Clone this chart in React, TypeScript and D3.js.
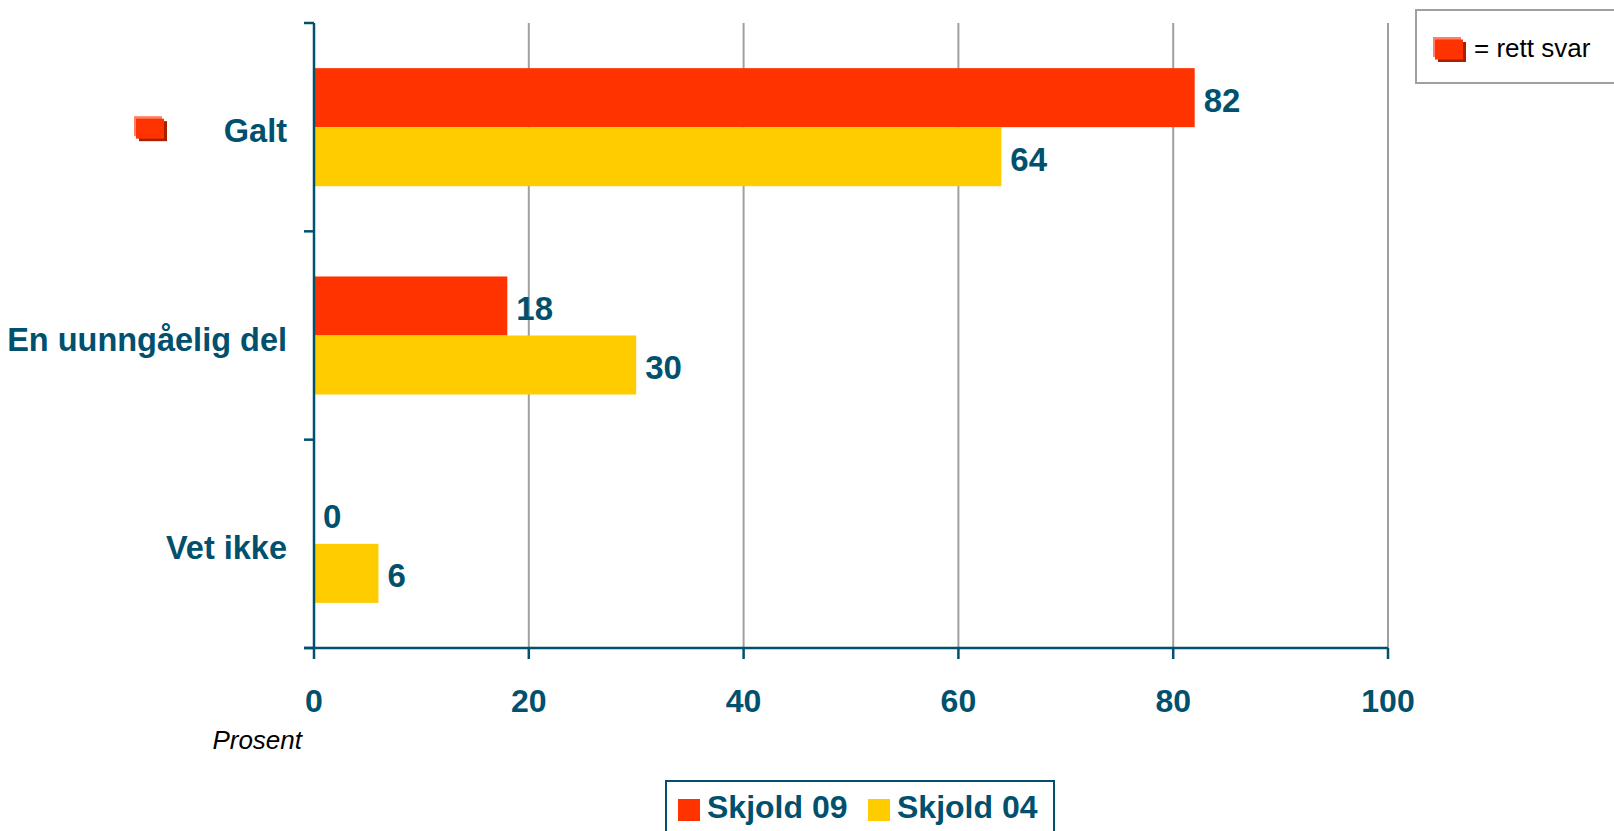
import React from "react";
import * as d3 from "d3";

const categories = ["Galt", "En uunngåelig del", "Vet ikke"];
const seriesNames = ["Skjold 09", "Skjold 04"];
const skjold09 = [82, 18, 0];
const skjold04 = [64, 30, 6];
const xTicks = [0, 20, 40, 60, 80, 100];
const correctAnswers = ["Galt"];
const axisTitle = "Prosent";
const correctLegendText = "= rett svar";

const COLORS = ["#FF3300", "#FFCC00"];
const TEAL = "#00506E";
const GRID = "#A0A0A0";
const FONT = "'Liberation Sans', Arial, Helvetica, sans-serif";

const W = 1614;
const H = 831;
const left = 314;
const right = 1388;
const top = 23;
const bottom = 648;

function Icon({ x, y }: { x: number; y: number }) {
  return (
    <g>
      <rect x={x + 5} y={y + 5} width={28} height={20} fill="#A82000" />
      <rect x={x} y={y} width={28} height={20} fill="#FF8066" />
      <rect x={x + 2} y={y + 2.5} width={28} height={20} fill="#FF3300" />
    </g>
  );
}

export default function App() {
  const x = d3.scaleLinear().domain([0, 100]).range([left, right]);
  const y = d3.scaleBand<string>().domain(categories).range([top, bottom]).padding(0);
  const inner = d3
    .scaleBand<string>()
    .domain(seriesNames)
    .range([0, y.bandwidth()])
    .paddingInner(0)
    .paddingOuter(0.765);
  const seriesValues = [skjold09, skjold04];
  const bandTicks = [top, ...categories.map((c) => (y(c) as number) + y.bandwidth())];

  return (
    <svg
      width={W}
      height={H}
      style={{ position: "absolute", left: 0, top: 0, display: "block", background: "#fff" }}
      fontFamily={FONT}
    >
      {xTicks
        .filter((t) => t > 0)
        .map((t) => (
          <line key={"g" + t} x1={x(t)} x2={x(t)} y1={top} y2={bottom} stroke={GRID} strokeWidth={2} />
        ))}
      {categories.map((c, ci) =>
        seriesNames.map((s, si) => {
          const v = seriesValues[si][ci];
          const by = (y(c) as number) + (inner(s) as number);
          const bh = inner.bandwidth();
          return (
            <g key={c + s}>
              <rect x={x(0)} y={by} width={x(v) - x(0)} height={bh} fill={COLORS[si]} />
              <text
                x={x(v) + 9}
                y={by + bh / 2 + 14}
                fontSize={33}
                fontWeight="bold"
                fill={TEAL}
              >
                {v}
              </text>
            </g>
          );
        })
      )}
      <line x1={left} x2={left} y1={top} y2={bottom} stroke={TEAL} strokeWidth={2.5} />
      <line x1={left - 10} x2={right} y1={bottom} y2={bottom} stroke={TEAL} strokeWidth={2.5} />
      {bandTicks.map((t, i) => (
        <line key={"bt" + i} x1={left - 10} x2={left} y1={t} y2={t} stroke={TEAL} strokeWidth={2.5} />
      ))}
      {xTicks.map((t) => (
        <g key={"xt" + t}>
          <line x1={x(t)} x2={x(t)} y1={bottom} y2={bottom + 11} stroke={TEAL} strokeWidth={2.5} />
          <text x={x(t)} y={712} textAnchor="middle" fontSize={32} fontWeight="bold" fill={TEAL}>
            {t}
          </text>
        </g>
      ))}
      {categories.map((c) => (
        <g key={"cl" + c}>
          <text
            x={287}
            y={(y(c) as number) + y.bandwidth() / 2 + 15}
            textAnchor="end"
            fontSize={32.5}
            fontWeight="bold"
            fill={TEAL}
          >
            {c}
          </text>
          {correctAnswers.includes(c) && <Icon x={134} y={(y(c) as number) + y.bandwidth() / 2 - 11} />}
        </g>
      ))}
      <text x={302} y={749} textAnchor="end" fontSize={26} fontStyle="italic" fill="#000">
        {axisTitle}
      </text>
      <rect x={1416} y={10} width={210} height={73} fill="#fff" stroke={GRID} strokeWidth={2} />
      <Icon x={1433} y={37} />
      <text x={1474} y={57} fontSize={26} fill="#000">
        {correctLegendText}
      </text>
      <rect x={666} y={781} width={388} height={70} fill="#fff" stroke={TEAL} strokeWidth={2} />
      {seriesNames.map((s, i) => {
        const sx = i === 0 ? 678 : 868;
        return (
          <g key={"lg" + s}>
            <rect x={sx} y={799} width={22} height={22} fill={COLORS[i]} />
            <text x={sx + 29} y={818} fontSize={32} fontWeight="bold" fill={TEAL}>
              {s}
            </text>
          </g>
        );
      })}
    </svg>
  );
}
